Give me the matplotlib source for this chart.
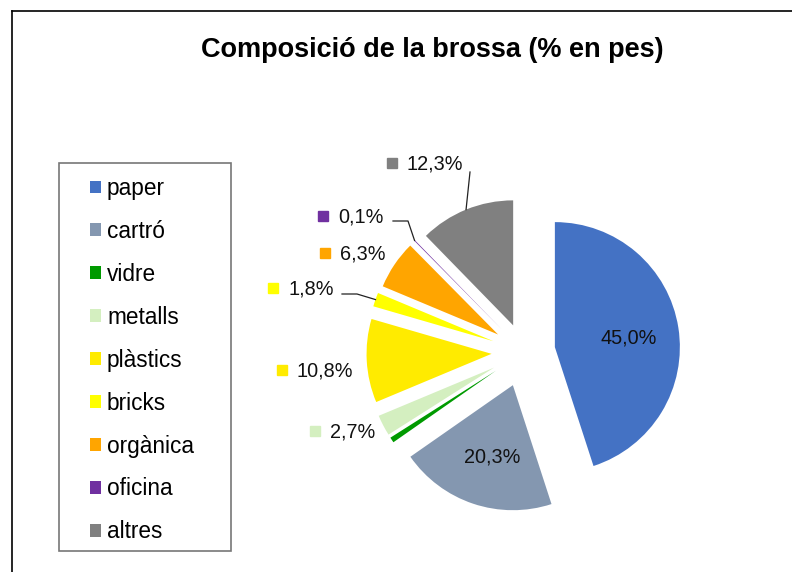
import matplotlib.pyplot as plt
import numpy as np
from matplotlib.lines import Line2D
from matplotlib.patches import Rectangle

plt.rcParams['font.family'] = ['Liberation Sans', 'DejaVu Sans']

# data
categories = ['paper', 'cartró', 'vidre', 'metalls', 'plàstics', 'bricks', 'orgànica', 'oficina', 'altres']
values = [45.0, 20.3, 0.7, 2.7, 10.8, 1.8, 6.3, 0.1, 12.3]
colors = ['#4472C4', '#8497B0', '#009A00', '#D4EFC0', '#FFEB00', '#FFFF00', '#FFA500', '#7030A0', '#808080']
explode = [0.25, 0.28, 0.27, 0.27, 0.26, 0.26, 0.25, 0.25, 0.23]

# layout (pixels)
W, H = 792, 572
CX, CY, R = 524, 352, 125
inside_labels = {0: (629, 338), 1: (492, 457)}
outside_labels = {3: (330, 432), 4: (297, 371), 5: (288, 289), 6: (340, 254), 7: (338, 217), 8: (407, 164)}
leaders = {5: ((342, 294), True), 7: ((393, 221), True), 8: ((470, 172), False)}


def px(x, y):
    return ((x - CX) / R, (CY - y) / R)


def fmt(v):
    return f"{v:.1f}".replace('.', ',') + '%'


fig = plt.figure(figsize=(W / 100, H / 100), dpi=100)
ax = fig.add_axes([0, 0, 1, 1])

wedges, _ = ax.pie(values, colors=colors, explode=explode, startangle=90,
                   counterclock=False, radius=1, wedgeprops=dict(linewidth=0))
ax.set_aspect('equal')
ax.set_xlim(-CX / R, (W - CX) / R)
ax.set_ylim(-(H - CY) / R, CY / R)
ax.axis('off')

for i, (x, y) in inside_labels.items():
    ax.text(*px(x, y), fmt(values[i]), ha='center', va='center', fontsize=14.3, color='#111111')

for i, (x, y) in outside_labels.items():
    ax.plot(*px(x - 15, y - 1), marker='s', markersize=6.8, color=colors[i], linestyle='none')
    ax.text(*px(x, y), fmt(values[i]), ha='left', va='center', fontsize=14.3, color='#111111')

for i, ((x, y), elbow) in leaders.items():
    w = wedges[i]
    mid = np.deg2rad((w.theta1 + w.theta2) / 2)
    end = (w.center[0] + w.r * np.cos(mid), w.center[1] + w.r * np.sin(mid))
    pts = [px(x, y)]
    if elbow:
        pts.append(px(x + 15, y))
    pts.append(end)
    xs, ys = zip(*pts)
    ax.plot(xs, ys, color='#222222', lw=0.9)

ax.legend(wedges, categories, loc='upper left', bbox_to_anchor=(90 / W, 1 - 177 / H),
          bbox_transform=fig.transFigure, frameon=False, fontsize=16.3,
          handlelength=0.5, handleheight=0.5, handletextpad=0.25,
          labelspacing=0.88, borderpad=0, borderaxespad=0)

fig.add_artist(Rectangle((59 / W, 1 - 551 / H), 172 / W, 388 / H, transform=fig.transFigure,
                         fill=False, edgecolor='#777777', lw=1.2))
fig.add_artist(Line2D([12 / W, 1], [1 - 11 / H, 1 - 11 / H], transform=fig.transFigure, color='black', lw=1.2))
fig.add_artist(Line2D([12 / W, 12 / W], [0, 1 - 11 / H], transform=fig.transFigure, color='black', lw=1.2))

fig.text(432 / W, 1 - 57 / H, 'Composició de la brossa (% en pes)', ha='center', va='baseline',
         fontsize=19.5, fontweight='bold')

fig.savefig('out.png', dpi=100)
